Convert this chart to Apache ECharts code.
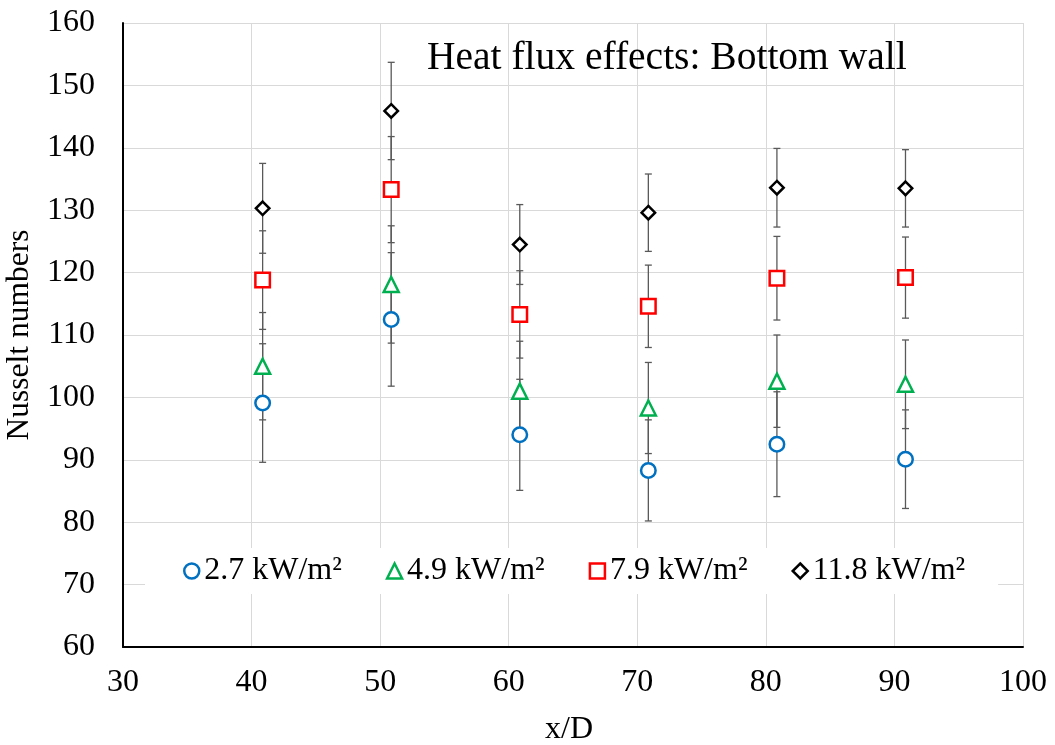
<!DOCTYPE html>
<html>
<head>
<meta charset="utf-8">
<script src="https://cdn.jsdelivr.net/npm/echarts@6/dist/echarts.min.js"></script>
<style>
  html, body { margin: 0; padding: 0; background: #fff; }
  #chart { width: 1055px; height: 745px; }
</style>
</head>
<body>
<div id="chart"></div>
<script>
// Axial stations (x/D) where the Nusselt number was measured
const positions = [40.86, 50.86, 60.86, 70.86, 80.86, 90.86];

// Series names (wall heat flux)
const seriesNames = ['2.7 kW/m²', '4.9 kW/m²', '7.9 kW/m²', '11.8 kW/m²'];

// Nusselt numbers per heat flux
const nu27 = [99.1, 112.5, 94.0, 88.3, 92.5, 90.1];
const nu49 = [105.0, 118.1, 101.0, 98.3, 102.6, 102.1];
const nu79 = [118.8, 133.3, 113.3, 114.6, 119.1, 119.2];
const nu118 = [130.3, 145.9, 124.5, 129.6, 133.6, 133.5];

// Symmetric uncertainty (± value) per point
const err27 = [9.5, 10.7, 8.9, 8.1, 8.4, 7.9];
const err49 = [8.6, 9.4, 8.0, 7.3, 7.4, 7.1];
const err79 = [7.9, 8.5, 7.0, 6.6, 6.7, 6.5];
const err118 = [7.2, 7.8, 6.4, 6.2, 6.3, 6.2];

const xTicks = { min: 30, max: 100, step: 10 };
const yTicks = { min: 60, max: 160, step: 10 };

const FONT = "'Liberation Serif', 'Times New Roman', serif";

const groups = [
  { name: seriesNames[0], values: nu27, errs: err27, symbol: 'circle', size: 14.5, color: '#0070C0' },
  { name: seriesNames[1], values: nu49, errs: err49, symbol: 'triangle', size: 15, color: '#00B050' },
  { name: seriesNames[2], values: nu79, errs: err79, symbol: 'rect', size: 14.5, color: '#FF0000' },
  { name: seriesNames[3], values: nu118, errs: err118, symbol: 'diamond', size: 13.5, color: '#000000' }
];

// Error-bar rows: [x, low, high]
const errorRows = [];
groups.forEach(g => {
  g.values.forEach((v, i) => {
    errorRows.push([positions[i], v - g.errs[i], v + g.errs[i]]);
  });
});

function renderErrorBar(params, api) {
  const x = api.value(0);
  const lo = api.coord([x, api.value(1)]);
  const hi = api.coord([x, api.value(2)]);
  const half = 3.5;
  const style = { stroke: '#595959', lineWidth: 1.3 };
  return {
    type: 'group',
    children: [
      { type: 'line', shape: { x1: hi[0], y1: hi[1], x2: lo[0], y2: lo[1] }, style },
      { type: 'line', shape: { x1: hi[0] - half, y1: hi[1], x2: hi[0] + half, y2: hi[1] }, style },
      { type: 'line', shape: { x1: lo[0] - half, y1: lo[1], x2: lo[0] + half, y2: lo[1] }, style }
    ]
  };
}

const scatterSeries = groups.map(g => ({
  name: g.name,
  type: 'scatter',
  symbol: g.symbol,
  symbolSize: g.size,
  z: 5,
  data: g.values.map((v, i) => [positions[i], v]),
  itemStyle: { color: '#ffffff', borderColor: g.color, borderWidth: 2.5, opacity: 1 }
}));

const chart = echarts.init(document.getElementById('chart'), null, { renderer: 'canvas' });

chart.setOption({
  backgroundColor: '#ffffff',
  animation: false,
  textStyle: { fontFamily: FONT, color: '#000' },
  title: {
    text: 'Heat flux effects: Bottom wall',
    left: 427,
    top: 39,
    padding: 0,
    textStyle: { fontFamily: FONT, fontSize: 39.5, fontWeight: 'normal', color: '#000' }
  },
  grid: { left: 123, right: 32, top: 23, bottom: 98, containLabel: false, outerBoundsMode: 'none' },
  xAxis: {
    type: 'value',
    min: xTicks.min,
    max: xTicks.max,
    interval: xTicks.step,
    name: 'x/D',
    nameLocation: 'middle',
    nameGap: 67,
    nameTextStyle: { fontFamily: FONT, fontSize: 32, color: '#000', padding: [0, 8, 0, 0] },
    axisLine: { show: true, onZero: false, lineStyle: { color: '#000', width: 2 } },
    axisTick: { show: false },
    axisLabel: { fontFamily: FONT, fontSize: 32, color: '#000', margin: 20 },
    splitLine: { show: true, lineStyle: { color: '#d9d9d9', width: 1 } }
  },
  yAxis: {
    type: 'value',
    min: yTicks.min,
    max: yTicks.max,
    interval: yTicks.step,
    name: 'Nusselt numbers',
    nameLocation: 'middle',
    nameGap: 83,
    nameTextStyle: { fontFamily: FONT, fontSize: 31.5, color: '#000' },
    axisLine: { show: true, onZero: false, lineStyle: { color: '#000', width: 2 } },
    axisTick: { show: false },
    axisLabel: { fontFamily: FONT, fontSize: 32, color: '#000', margin: 28 },
    splitLine: { show: true, lineStyle: { color: '#d9d9d9', width: 1 } }
  },
  legend: {
    data: seriesNames,
    orient: 'horizontal',
    left: 145,
    top: 548,
    padding: [7, 33, 7, 38],
    backgroundColor: '#ffffff',
    itemWidth: 15,
    itemHeight: 15,
    itemGap: 44,
    textStyle: { fontFamily: FONT, fontSize: 32, color: '#000' },
    itemStyle: { borderWidth: 2.5 }
  },
  series: [
    {
      name: 'errorBars',
      type: 'custom',
      renderItem: renderErrorBar,
      data: errorRows,
      encode: { x: 0, y: [1, 2] },
      z: 2,
      silent: true
    }
  ].concat(scatterSeries)
});
</script>
</body>
</html>
